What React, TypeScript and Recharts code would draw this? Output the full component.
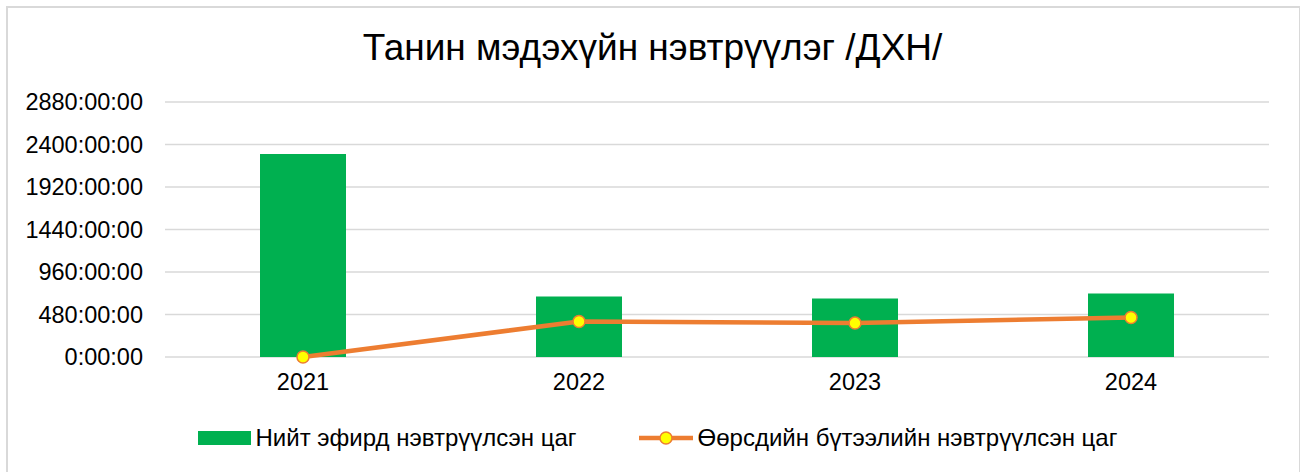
import { ComposedChart, Bar, Line, XAxis, YAxis, CartesianGrid } from "recharts";

const years = ["2021", "2022", "2023", "2024"];
const totalHours = [2293, 683, 660, 717];
const ownHours = [0, 401, 383, 446];
const yTicks = [0, 480, 960, 1440, 1920, 2400, 2880];

const totalName = "Нийт эфирд нэвтрүүлсэн цаг";
const ownName = "Өөрсдийн бүтээлийн нэвтрүүлсэн цаг";

const data = years.map((year, i) => ({ year, total: totalHours[i], own: ownHours[i] }));

const font = "'Liberation Sans', Arial, sans-serif";

const LegendBox = () => (
  <div
    style={{
      position: "absolute",
      left: 0,
      top: 424,
      width: 1300,
      display: "flex",
      justifyContent: "center",
      alignItems: "center",
      fontFamily: font,
      fontSize: 24,
      color: "#000",
      paddingLeft: 15,
      boxSizing: "border-box",
    }}
  >
    <span style={{ display: "flex", alignItems: "center" }}>
      <span style={{ width: 53, height: 14, background: "#00B050", marginRight: 5 }} />
      {totalName}
    </span>
    <span style={{ display: "flex", alignItems: "center", marginLeft: 62 }}>
      <svg width={54} height={16} style={{ marginRight: 5 }}>
        <line x1={0} y1={8} x2={54} y2={8} stroke="#ED7D31" strokeWidth={4.5} />
        <circle cx={27} cy={8} r={6} fill="#FFFF00" stroke="#ED7D31" strokeWidth={1.5} />
      </svg>
      {ownName}
    </span>
  </div>
);

export default function App() {
  return (
    <div style={{ position: "absolute", left: 0, top: 0, width: 1300, height: 472, background: "#fff", overflow: "hidden" }}>
      <div
        style={{
          position: "absolute",
          left: 6,
          top: 6,
          width: 1291,
          height: 480,
          borderTop: "2px solid #d9d9d9",
          borderLeft: "2px solid #d9d9d9",
          borderRight: "2px solid #d9d9d9",
        }}
      />
      <div
        style={{
          position: "absolute",
          left: 0,
          top: 27,
          width: 1305,
          textAlign: "center",
          fontFamily: font,
          fontSize: 37,
          color: "#000",
        }}
      >
        Танин мэдэхүйн нэвтрүүлэг /ДХН/
      </div>
      <div style={{ position: "absolute", left: 0, top: 0 }}>
        <ComposedChart
          width={1300}
          height={472}
          data={data}
          margin={{ top: 102, right: 31, left: 0, bottom: 85 }}
          barCategoryGap="34%"
        >
          <CartesianGrid vertical={false} stroke="#d9d9d9" strokeWidth={1.5} />
          <XAxis
            dataKey="year"
            height={30}
            axisLine={false}
            tickLine={false}
            tickSize={0}
            tickMargin={16}
            tick={{ fill: "#000", fontSize: 23.5, fontFamily: font }}
          />
          <YAxis
            width={165}
            domain={[0, 2880]}
            ticks={yTicks}
            axisLine={false}
            tickLine={false}
            tickSize={0}
            tickMargin={22}
            tickFormatter={(v: number) => `${v}:00:00`}
            tick={{ fill: "#000", fontSize: 23.5, fontFamily: font }}
          />
          <Bar dataKey="total" name={totalName} fill="#00B050" barSize={86} isAnimationActive={false} />
          <Line
            dataKey="own"
            name={ownName}
            type="linear"
            stroke="#ED7D31"
            strokeWidth={4.5}
            dot={{ r: 6, fill: "#FFFF00", stroke: "#ED7D31", strokeWidth: 1.5 }}
            activeDot={false}
            isAnimationActive={false}
          />
        </ComposedChart>
      </div>
      <LegendBox />
    </div>
  );
}
